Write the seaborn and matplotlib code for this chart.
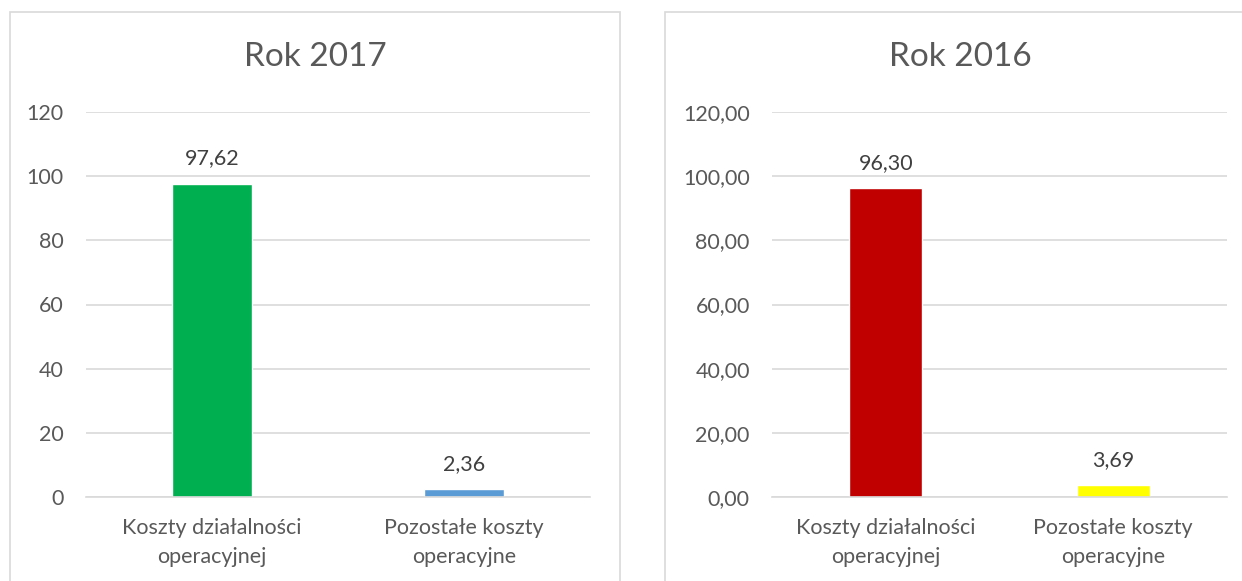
import matplotlib
matplotlib.use("Agg")
import matplotlib.pyplot as plt
from matplotlib.patches import Rectangle
from matplotlib.ticker import FuncFormatter
import seaborn as sns
import pandas as pd

# data
categories = ["Koszty działalności\noperacyjnej", "Pozostałe koszty\noperacyjne"]
values_2017 = [97.62, 2.36]
values_2016 = [96.30, 3.69]
colors_2017 = ["#00B050", "#5B9BD5"]
colors_2016 = ["#C00000", "#FFFF00"]
titles = ["Rok 2017", "Rok 2016"]
y_ticks = [0, 20, 40, 60, 80, 100, 120]

sns.set_style("white")
plt.rcParams["font.family"] = ["Lato", "DejaVu Sans"]

TEXT = "#595959"
GRID = "#D9D9D9"
W, H = 1242, 581

fig = plt.figure(figsize=(W / 100, H / 100), dpi=100)

# chart frames (bottom edge is cut off in the reference)
fig.patches.append(Rectangle((10 / W, -0.05), 610 / W, 1.05 - 12 / H, transform=fig.transFigure,
                             fill=False, edgecolor=GRID, linewidth=1.2))
fig.patches.append(Rectangle((665 / W, -0.05), 600 / W, 1.05 - 12 / H, transform=fig.transFigure,
                             fill=False, edgecolor=GRID, linewidth=1.2))

panels = [
    (values_2017, colors_2017, titles[0], 86, 590, 315, lambda v, p: f"{v:.0f}"),
    (values_2016, colors_2016, titles[1], 772, 1227, 960, lambda v, p: f"{v:.2f}".replace(".", ",")),
]

for vals, cols, title, x0, x1, tx, fmt in panels:
    ax = fig.add_axes([x0 / W, 1 - 497 / H, (x1 - x0) / W, (497 - 112) / H])
    df = pd.DataFrame({"kategoria": categories, "wartosc": vals})
    sns.barplot(data=df, x="kategoria", y="wartosc", hue="kategoria", palette=cols,
                width=0.32, legend=False, ax=ax, saturation=1)
    ax.set_ylim(0, 120)
    ax.set_xlim(-0.5, 1.5)
    ax.set_yticks(y_ticks)
    ax.yaxis.set_major_formatter(FuncFormatter(fmt))
    ax.grid(axis="y", color=GRID, linewidth=1.2)
    ax.set_axisbelow(True)
    for s in ["top", "right", "left"]:
        ax.spines[s].set_visible(False)
    ax.spines["bottom"].set_color(GRID)
    ax.spines["bottom"].set_linewidth(1.2)
    ax.tick_params(axis="y", length=0, pad=16, labelsize=15.5, labelcolor=TEXT)
    ax.tick_params(axis="x", length=0, pad=15, labelsize=15.5, labelcolor=TEXT)
    for lbl in ax.get_xticklabels():
        lbl.set_linespacing(1.6)
    ax.set_xlabel("")
    ax.set_ylabel("")
    for c in ax.containers:
        ax.bar_label(c, labels=[f"{v:.2f}".replace(".", ",") for v in c.datavalues],
                     padding=11, fontsize=15.5, color="#404040")
    fig.text(tx / W, 1 - 57 / H, title, ha="center", va="center", fontsize=24, color=TEXT)

fig.savefig("out.png", dpi=100)
